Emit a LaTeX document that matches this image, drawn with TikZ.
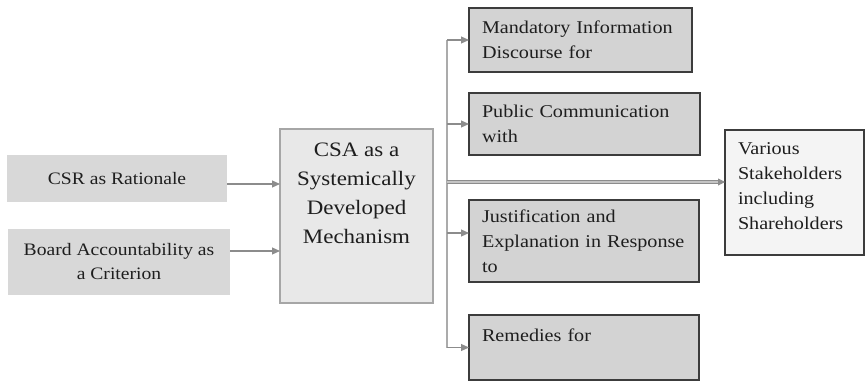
\documentclass[tikz,border=0pt]{standalone}
\usepackage{fontspec}
\setmainfont[FakeStretch=1.12]{Liberation Serif}
\usetikzlibrary{arrows.meta}
\definecolor{leftfill}{HTML}{D8D8D8}
\definecolor{csafill}{HTML}{E8E8E8}
\definecolor{csaedge}{HTML}{A6A6A6}
\definecolor{rightfill}{HTML}{D3D3D3}
\definecolor{boxedge}{HTML}{3C3C3C}
\definecolor{varfill}{HTML}{F4F4F4}
\definecolor{linecol}{HTML}{ABABAB}
\definecolor{arrcol}{HTML}{8C8C8C}
\definecolor{txt}{HTML}{1E1E1E}
\begin{document}
\begin{tikzpicture}[x=1pt,y=-1pt,
  base/.style={rectangle, inner sep=0pt, outer sep=0pt, text=txt},
  leftbox/.style={base, fill=leftfill, draw=none, align=center,
    font=\fontsize{17.5}{24}\selectfont},
  csabox/.style={base, fill=csafill, draw=csaedge, line width=1.6pt, align=center,
    font=\fontsize{20.5}{29}\selectfont},
  rightbox/.style={base, fill=rightfill, draw=boxedge, line width=1.2pt, align=left,
    font=\fontsize{18}{25}\selectfont},
  varbox/.style={base, fill=varfill, draw=boxedge, line width=1.2pt, align=left,
    font=\fontsize{18}{25}\selectfont},
  arr/.style={draw=arrcol, line width=1.1pt, -{Triangle[length=8pt,width=7pt]}},
  busline/.style={draw=linecol, line width=1.3pt},
  mainarr/.style={draw=arrcol, line width=0.9pt, double=linecol!70, double distance=1.4pt,
    -{Triangle[length=7pt,width=7pt]}}
]
\useasboundingbox (0,0) rectangle (865,381);

% left inputs
\node[leftbox, minimum width=220pt, minimum height=47pt] (csr) at (117,178.5) {CSR as Rationale};
\node[leftbox, minimum width=222pt, minimum height=66pt] (board) at (119,262)
  {Board Accountability as\\a Criterion};

% central box
\node[csabox, minimum width=153pt, minimum height=174pt] (csa) at (356.5,216)
  {CSA as a\\Systemically\\Developed\\Mechanism\\[16pt]\mbox{}};

% right boxes
\node[rightbox, minimum width=223pt, text width=197pt, minimum height=64pt] (mand) at (580.5,40)
  {Mandatory Information\\Discourse for};
\node[rightbox, minimum width=231pt, text width=205pt, minimum height=62pt] (pub) at (584.5,124)
  {Public Communication\\with};
\node[rightbox, minimum width=230pt, text width=204pt, minimum height=82pt] (just) at (584,241)
  {Justification and\\Explanation in Response\\to};
\node[rightbox, minimum width=230pt, text width=204pt, minimum height=65pt] (rem) at (584,347.5)
  {Remedies for\\\mbox{}};

% stakeholders
\node[varbox, minimum width=139pt, text width=113pt, minimum height=125pt] (var) at (794.5,192.5)
  {Various\\Stakeholders\\including\\Shareholders\\[-13pt]\mbox{}};

% connectors
\draw[arr] ([yshift=-5.5pt]csr.east) -- ([yshift=-5.5pt]csr.east -| csa.west);
\draw[arr] ([yshift=11pt]board.east) -- ([yshift=11pt]board.east -| csa.west);

\coordinate (bus) at (447,0);
\coordinate (main) at (447,182);
\draw[busline] (bus |- mand.west) -- (bus |- rem.west);
\draw[arr] (bus |- mand.west) -- (mand.west);
\draw[arr] (bus |- pub.west) -- (pub.west);
\draw[arr] ([yshift=8pt]bus |- just.west) -- ([yshift=8pt]just.west);
\draw[arr] (bus |- rem.west) -- (rem.west);
\draw[mainarr] (main) -- (main -| var.west);
\end{tikzpicture}
\end{document}
